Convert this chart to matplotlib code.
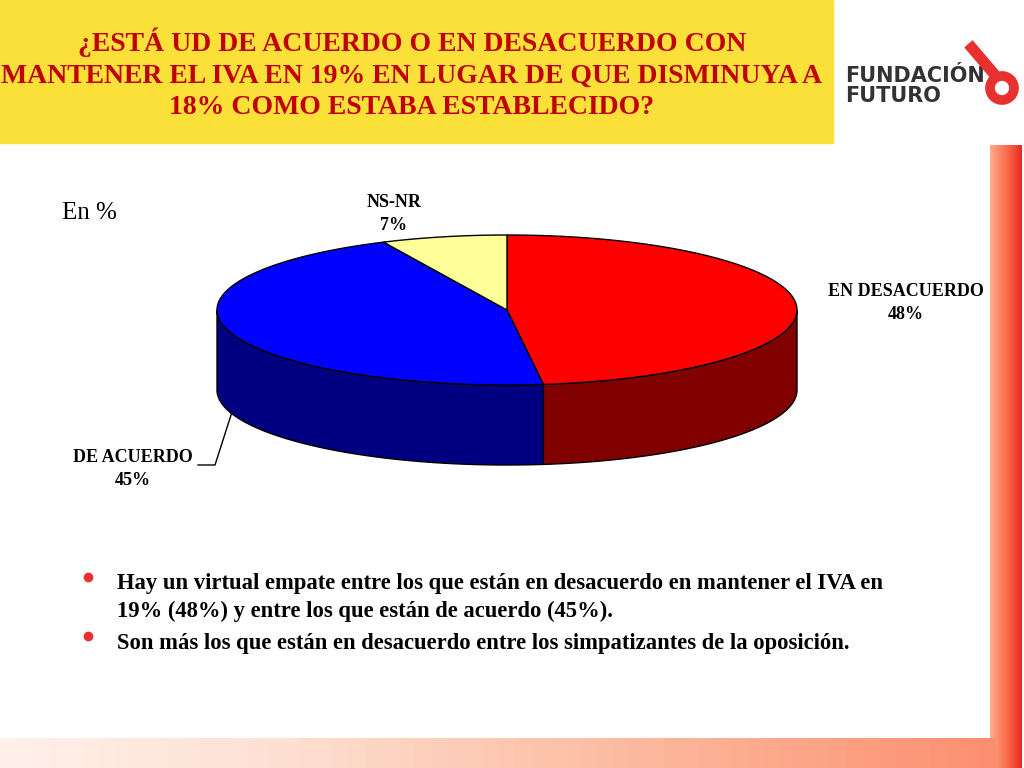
import numpy as np
import matplotlib
matplotlib.use("Agg")
import matplotlib.pyplot as plt
from matplotlib.patches import Polygon, Rectangle, Circle

labels = ["EN DESACUERDO", "DE ACUERDO", "NS-NR"]
values = [48, 45, 7]
top_colors = ["#FF0000", "#0000FF", "#FFFF99"]
side_colors = ["#800000", "#000080", "#999950"]

fig = plt.figure(figsize=(10.24, 7.68), dpi=100)
ax = fig.add_axes([0, 0, 1, 1])
ax.set_xlim(0, 1024); ax.set_ylim(768, 0); ax.axis("off")

ax.add_patch(Rectangle((0, 0), 833, 143, color="#FBE03A", zorder=1))
for i in range(32):
    ax.add_patch(Rectangle((990 + i, 145), 1.2, 623, color=plt.cm.Reds(0.3 + 0.012 * i), zorder=0, lw=0))
for i in range(60):
    ax.add_patch(Rectangle((i * 16.6, 738), 17, 30, color=plt.cm.Reds(0.03 + 0.006 * i), zorder=0, lw=0))

ax.text(412, 74, "¿ESTÁ UD DE ACUERDO O EN DESACUERDO CON\nMANTENER EL IVA EN 19% EN LUGAR DE QUE DISMINUYA A\n18% COMO ESTABA ESTABLECIDO?",
        ha="center", va="center", fontsize=20, fontweight="bold", color="#C00000",
        family="Liberation Serif", linespacing=1.35, zorder=3)
ax.text(845, 86, "FUNDACIÓN\nFUTURO", ha="left", va="center", fontsize=15, fontweight="heavy",
        color="#333333", family="DejaVu Sans", linespacing=1.05, zorder=3)
ax.add_patch(Circle((1002, 88), 12, fill=False, ec="#E8312F", lw=7, zorder=3))
ax.plot([972, 995], [48, 75], color="#E8312F", lw=8, zorder=3)

ax.text(62, 213, "En %", fontsize=18, family="Liberation Serif", va="center")

cx, cy, a, b, d = 507, 310, 290, 75, 80
start = 90.0
for lab, v, tc, sc in zip(labels, values, top_colors, side_colors):
    end = start - v * 3.6
    t = np.radians(np.linspace(start, end, 200))
    tv = t[np.sin(t) <= 0]
    if len(tv) > 1:
        xs = cx + a * np.cos(tv); ys = cy - b * np.sin(tv)
        pts = np.column_stack([np.r_[xs, xs[::-1]], np.r_[ys, ys[::-1] + d]])
        ax.add_patch(Polygon(pts, closed=True, fc=sc, ec="black", lw=1, zorder=4))
    xs = cx + a * np.cos(t); ys = cy - b * np.sin(t)
    pts = np.column_stack([np.r_[cx, xs], np.r_[cy, ys]])
    ax.add_patch(Polygon(pts, closed=True, fc=tc, ec="black", lw=1, zorder=5))
    start = end

lf = dict(fontsize=13, fontweight="bold", family="Liberation Serif", ha="center", va="center", linespacing=1.5)
ax.text(906, 303, f"{labels[0]}\n{values[0]}%", **lf)
ax.text(133, 469, f"{labels[1]}\n{values[1]}%", **lf)
ax.text(394, 214, f"{labels[2]}\n{values[2]}%", **lf)
ax.plot([198, 215, 232], [465, 465, 412], color="black", lw=1)

bf = dict(fontsize=16.3, fontweight="bold", family="Liberation Serif", va="center")
ax.plot([88, 88], [577, 636], "o", color="#E8312F", ms=6)
ax.text(117, 583, "Hay un virtual empate entre los que están en desacuerdo en mantener el IVA en", **bf)
ax.text(117, 611, "19% (48%) y entre los que están de acuerdo (45%).", **bf)
ax.text(117, 643, "Son más los que están en desacuerdo entre los simpatizantes de la oposición.", **bf)

fig.savefig("out.png", dpi=100)
